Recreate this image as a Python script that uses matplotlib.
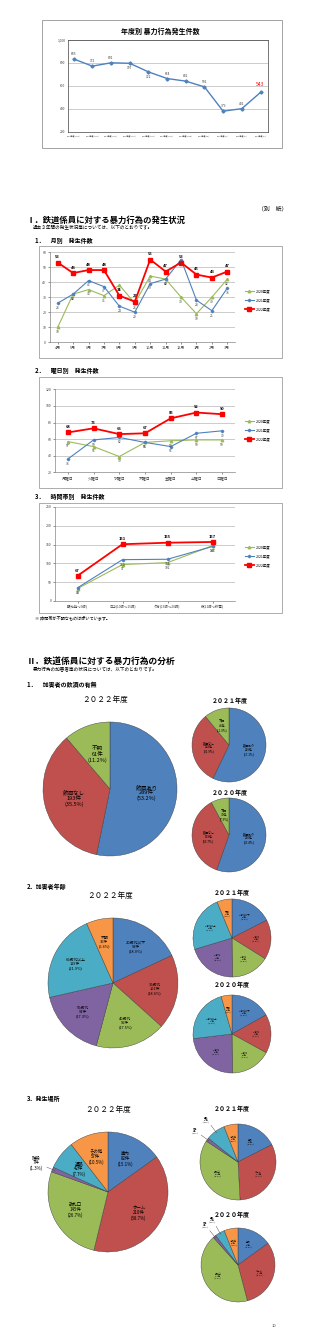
import numpy as np
import matplotlib.pyplot as plt
from matplotlib.patches import Rectangle

plt.rcParams['font.family'] = ['Noto Sans CJK JP', 'DejaVu Sans']

# ---- data ----
fy_labels = ['2012年度(H24)', '2013年度(H25)', '2014年度(H26)', '2015年度(H27)',
             '2016年度(H28)', '2017年度(H29)', '2018年度(H30)', '2019年度(R1)',
             '2020年度(R2)', '2021年度(R3)', '2022年度(R4)']
fy_counts = [835, 772, 801, 797, 722, 664, 641, 591, 379, 401, 543]

series_names = ['2020年度', '2021年度', '2022年度']

months = ['4月', '5月', '6月', '7月', '8月', '9月', '10月', '11月', '12月', '1月', '2月', '3月']
month_2020 = [10, 32, 35, 31, 38, 26, 44, 42, 30, 19, 30, 42]
month_2021 = [26, 32, 41, 37, 24, 20, 39, 42, 55, 28, 21, 36]
month_2022 = [53, 46, 48, 48, 31, 27, 55, 47, 53, 45, 43, 47]

days = ['月曜日', '火曜日', '水曜日', '木曜日', '金曜日', '土曜日', '日曜日']
day_2020 = [57, 51, 39, 56, 58, 59, 59]
day_2021 = [36, 59, 62, 56, 51, 67, 70]
day_2022 = [68, 73, 66, 67, 85, 92, 90]

times = ['朝(始発～9時)', '日中(10時～15時)', '夕方(16時～20時)', '夜(21時～終電)']
time_2020 = [33, 97, 102, 147]
time_2021 = [35, 110, 111, 145]
time_2022 = [67, 151, 155, 157]

drink_names = ['飲酒あり', '飲酒なし', '不明']
drink_2022 = [289, 193, 61]
drink_2021 = [229, 128, 44]
drink_2020 = [210, 139, 30]

age_names = ['20歳代以下', '30歳代', '40歳代', '50歳代', '60歳代以上', '不明']
age_2022 = [98, 101, 95, 94, 119, 36]
age_2021 = [70, 66, 64, 82, 94, 25]
age_2020 = [64, 61, 64, 88, 85, 17]

place_names = ['車内', 'ホーム', '改札口', '階段', '通路', 'その他']
place_2022 = [82, 210, 145, 7, 42, 57]
place_2021 = [70, 127, 141, 6, 33, 24]
place_2020 = [57, 117, 161, 5, 16, 23]

pie_colors = ['#4F81BD', '#C0504D', '#9BBB59', '#8064A2', '#4BACC6', '#F79646']

W, H = 320, 1343
fig = plt.figure(figsize=(W / 100, H / 100), dpi=100)


def box(x0, y0, x1, y1):
    # pixel rect, origin top-left
    return fig.add_axes([x0 / W, 1 - y1 / H, (x1 - x0) / W, (y1 - y0) / H])


def frame(x0, y0, x1, y1, color='#8c8c8c'):
    fig.add_artist(Rectangle((x0 / W, 1 - y1 / H), (x1 - x0) / W, (y1 - y0) / H,
                             transform=fig.transFigure, fill=False,
                             edgecolor=color, lw=0.5))


def txt(x, y, s, size, **kw):
    kw.setdefault('va', 'center')
    fig.text(x / W, 1 - y / H, s, fontsize=size, **kw)


# ---- annual chart (top box) ----
frame(42, 20, 282, 148, color='#7f7f7f')
txt(160, 31, '年度別 暴力行為発生件数', 5.0, ha='center', weight='bold')
ax = box(68, 40, 268, 131.7)
xs = np.arange(len(fy_counts))
ax.plot(xs, fy_counts, color='#4F81BD', lw=1.0, marker='D', ms=1.6)
top_off = [1, 1, 1, -1, -1, 1, 1, 1, 1, 1, 1]
for i, v in enumerate(fy_counts):
    last = i == len(fy_counts) - 1
    ax.annotate(str(v), (i, v), xytext=(0, 3.5 * top_off[i] + (2 if last else 0)),
                textcoords='offset points', ha='center', va='center',
                fontsize=3.6 if last else 2.4, color='#FF0000' if last else '#404040')
ax.set_xlim(-0.3, 10.4)
ax.set_ylim(200, 1000)
ax.set_yticks([200, 400, 600, 800, 1000])
ax.set_yticklabels([f'{v:,}' for v in [200, 400, 600, 800, 1000]])
ax.set_xticks(xs)
ax.set_xticklabels(fy_labels)
ax.yaxis.grid(True, color='#a6a6a6', lw=0.4)
ax.set_axisbelow(True)
ax.tick_params(axis='y', labelsize=2.4, length=0, pad=2, colors='#404040')
ax.tick_params(axis='x', labelsize=1.45, length=0, pad=2, colors='#404040')
for s in ax.spines.values():
    s.set_linewidth(0.5)
    s.set_color('#404040')

# ---- section I ----
txt(258, 209, '（別　紙）', 4.2)
txt(27, 220, 'Ⅰ．鉄道係員に対する暴力行為の発生状況', 6.0, weight='bold')
txt(33, 228, '過去３年間の発生状況等については、以下のとおりです。', 3.3)

line_styles = [dict(color='#9BBB59', marker='^', ms=1.8, lw=0.8),
               dict(color='#4F81BD', marker='D', ms=1.3, lw=0.8),
               dict(color='#FF0000', marker='s', ms=2.6, lw=1.3)]


def line_panel(rect, cats, data, ylim, yticks, leg_y, cat_size):
    ax = box(*rect)
    x = np.arange(len(cats))
    offs = [-3.5, -3.5, 3.8]
    for vals, st, name, off in zip(data, line_styles, series_names, offs):
        ax.plot(x, vals, label=name, **st)
        red = st['color'] == '#FF0000'
        for xi, v in zip(x, vals):
            ax.annotate(str(v), (xi, v), xytext=(0, off), textcoords='offset points',
                        ha='center', va='center', fontsize=2.9 if red else 2.4,
                        weight='bold' if red else 'normal',
                        color='#000000' if red else '#404040')
    ax.set_xlim(-0.5, len(cats) - 0.5)
    ax.set_ylim(*ylim)
    ax.set_yticks(yticks)
    ax.set_xticks(x)
    ax.set_xticklabels(cats)
    ax.yaxis.grid(True, color='#a6a6a6', lw=0.4)
    ax.set_axisbelow(True)
    ax.tick_params(axis='y', labelsize=2.5, length=1.2, width=0.4, pad=1.5, colors='#404040')
    ax.tick_params(axis='x', labelsize=cat_size, length=1.2, width=0.4, pad=1.5, colors='#404040')
    for k in ['top', 'right']:
        ax.spines[k].set_visible(False)
    for k in ['left', 'bottom']:
        ax.spines[k].set_linewidth(0.5)
        ax.spines[k].set_color('#868686')
    ax.legend(loc='center left', bbox_to_anchor=(243 / W, 1 - leg_y / H),
              bbox_transform=fig.transFigure, frameon=False, fontsize=2.5,
              handlelength=2.6, handletextpad=0.6, labelspacing=1.5, borderpad=0)
    return ax


txt(35, 241, '1．　月別　発生件数', 4.3, weight='bold')
frame(39, 246, 282, 358)
line_panel((50, 252, 235, 342.3), months, [month_2020, month_2021, month_2022],
           (0, 60), range(0, 61, 10), 300, 2.8)

txt(35, 371, '2．　曜日別　発生件数', 4.3, weight='bold')
frame(39, 377, 282, 488)
line_panel((55, 389.3, 235, 472.3), days, [day_2020, day_2021, day_2022],
           (20, 120), range(20, 121, 20), 430, 2.8)

txt(35, 497, '3．　時間帯別　発生件数', 4.3, weight='bold')
frame(39, 503, 282, 613)
line_panel((55, 507, 235, 601), times, [time_2020, time_2021, time_2022],
           (0, 250), range(0, 251, 50), 556, 2.4)
txt(35, 618, '※ 時間帯が不明なものは除いています。', 3.0)

# ---- section II ----
txt(27, 661, 'Ⅱ．鉄道係員に対する暴力行為の分析', 6.3, weight='bold')
txt(33, 670, '暴力行為の加害者等の状況については、以下のとおりです。', 3.3)


def pie(cx, cy, r, values, names, fs, dist=0.58, outside=(), out_dist=1.45):
    ax = box(cx - r, cy - r, cx + r, cy + r)
    wedges, _ = ax.pie(values, colors=pie_colors[:len(values)], startangle=90,
                       counterclock=False, radius=1,
                       wedgeprops=dict(edgecolor='#3a3a3a', linewidth=0.3))
    ax.set_xlim(-1, 1)
    ax.set_ylim(-1, 1)
    ax.set_aspect('equal')
    ax.axis('off')
    total = sum(values)
    for i, (w, v, n) in enumerate(zip(wedges, values, names)):
        ang = np.deg2rad((w.theta1 + w.theta2) / 2)
        lab = f'{n}\n{v}件\n({v / total * 100:.1f}%)'
        if i in outside:
            ax.plot([np.cos(ang) * 0.95, np.cos(ang) * (out_dist - 0.2)],
                    [np.sin(ang) * 0.95, np.sin(ang) * (out_dist - 0.2)],
                    color='#404040', lw=0.3, clip_on=False)
            ax.text(np.cos(ang) * out_dist, np.sin(ang) * out_dist, lab, ha='center',
                    va='center', fontsize=fs, linespacing=1.05)
        else:
            ax.text(np.cos(ang) * dist, np.sin(ang) * dist, lab, ha='center',
                    va='center', fontsize=fs, linespacing=1.1)


txt(27, 685, '1．　加害者の飲酒の有無', 4.3, weight='bold')
txt(105, 700, '２０２２年度', 5.5, ha='center')
pie(110, 789, 67, drink_2022, drink_names, 4.0, dist=0.55)
txt(230, 700, '２０２１年度', 4.3, ha='center', weight='bold')
pie(229, 745, 37, drink_2021, drink_names, 2.2, dist=0.55)
txt(230, 792, '２０２０年度', 4.3, ha='center', weight='bold')
pie(229, 835, 37, drink_2020, drink_names, 2.2, dist=0.55)

txt(27, 887, '2．加害者年齢', 4.3, weight='bold')
txt(110, 896, '２０２２年度', 5.5, ha='center')
pie(113, 983, 65, age_2022, age_names, 2.8, dist=0.65)
txt(232, 893, '２０２１年度', 4.3, ha='center', weight='bold')
pie(232, 938, 39, age_2021, age_names, 1.6, dist=0.62)
txt(232, 985, '２０２０年度', 4.3, ha='center', weight='bold')
pie(232, 1034, 39, age_2020, age_names, 1.6, dist=0.62)

txt(27, 1099, '3．発生場所', 4.3, weight='bold')
txt(108, 1110, '２０２２年度', 5.5, ha='center')
pie(108, 1192, 60, place_2022, place_names, 3.2, dist=0.62, outside=(3,), out_dist=1.3)
txt(232, 1109, '２０２１年度', 4.3, ha='center', weight='bold')
pie(238, 1162, 38, place_2021, place_names, 1.6, dist=0.62, outside=(3, 4), out_dist=1.4)
txt(232, 1215, '２０２０年度', 4.3, ha='center', weight='bold')
pie(238, 1265, 37, place_2020, place_names, 1.6, dist=0.62, outside=(3, 4), out_dist=1.4)

txt(272, 1326, '10', 3.0, color='#404040')

fig.savefig('out.png', dpi=100)
